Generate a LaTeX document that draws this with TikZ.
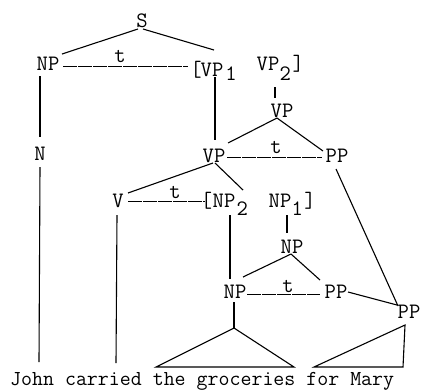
\documentclass[tikz,border=0pt]{standalone}
\usetikzlibrary{calc}
\begin{document}
\begin{tikzpicture}[x=1pt,y=-1pt,
  lab/.style={font=\fontsize{22}{22}\selectfont\ttfamily, inner sep=0pt, anchor=base},
  tr/.style={line width=1.1pt},
  trace/.style={line width=0.8pt, dash pattern=on 14pt off 1pt}]
\useasboundingbox[fill=white] (0,0) rectangle (422,389);
% labels
\node[lab] (S) at (142,27) {S};
\node[lab] (NPa) at (48,70) {NP};
\node[lab] (t1) at (120,62) {t};
\node[lab] (VP1) at (212,76) {VP};
\node[lab,anchor=base east] (lb1) at ($(VP1.base west)+(1.5,0)$) {[};
\node[lab,anchor=base west] (s1) at ($(VP1.base east)+(1.6,4)$) {1};
\node[lab] (VP2) at (268,70) {VP};
\node[lab,anchor=base west] (s2) at ($(VP2.base east)+(0,10)$) {2};
\node[lab,anchor=base west] (rb1) at ($(VP2.base east)+(13,0)$) {]};
\node[lab] (VPu) at (282,117) {VP};
\node[lab] (VPm) at (214,162) {VP};
\node[lab] (t2) at (276,153) {t};
\node[lab] (PPm) at (337,162) {PP};
\node[lab] (N) at (40,160) {N};
\node[lab] (V) at (118,207) {V};
\node[lab] (t3) at (175,198) {t};
\node[lab] (NP2) at (224,207) {NP};
\node[lab,anchor=base east] (lb2) at (NP2.base west) {[};
\node[lab,anchor=base west] (s3) at ($(NP2.base east)+(1,8)$) {2};
\node[lab] (NP1) at (280,207) {NP};
\node[lab,anchor=base west] (s4) at ($(NP1.base east)+(0,8)$) {1};
\node[lab,anchor=base west] (rb2) at ($(NP1.base east)+(12.6,0)$) {]};
\node[lab] (NPr) at (292,253) {NP};
\node[lab] (NPl) at (235,298) {NP};
\node[lab] (t4) at (288,292) {t};
\node[lab] (PPl) at (336,298) {PP};
\node[lab] (PPr) at (409,318) {PP};
\node[lab,anchor=base west,font=\fontsize{21.3}{21.3}\selectfont\ttfamily] (W) at (10,385) {John carried the groceries for Mary};
% roof coordinates
\coordinate (tri1) at ($(NPl.base)+(-1,30)$);
\coordinate (tri1l) at ($(W.base west)+(146,-18)$);
\coordinate (tri1r) at ($(W.base west)+(284,-18)$);
\coordinate (tri2) at ($(PPr.base)+(-4,7)$);
\coordinate (tri2l) at ($(W.base west)+(304,-18)$);
\coordinate (tri2r) at ($(W.base west)+(393,-18)$);
% branches
\draw[tr] ($(S.base)+(-4,2)$) -- ($(NPa.base)+(14,-16)$);
\draw[tr] ($(S.base)+(1,2)$) -- ($(VP1.base)+(2,-26)$);
\draw[trace] ($(NPa.base)+(15,-4)$) -- ($(VP1.base)+(-24,-10)$);
\draw[tr] ($(NPa.base)+(-8,6)$) -- ($(N.base)+(0,-23)$);
\draw[tr] ($(N.base)+(0,7)$) -- ($(W.base west)+(29,-23)$);
\draw[tr] ($(VP1.base)+(3,1)$) -- ($(VPm.base)+(1,-22)$);
\draw[tr] ($(VP2.base)+(7,17)$) -- ($(VPu.base)+(-7,-19)$);
\draw[tr] ($(VPu.base)+(-5,1)$) -- ($(VPm.base)+(14,-19)$);
\draw[tr] ($(VPu.base)+(-5,1)$) -- ($(PPm.base)+(-14,-11)$);
\draw[trace] ($(VPm.base)+(13,-5)$) -- ($(PPm.base)+(-15,-5)$);
\draw[tr] ($(VPm.base)+(-1,1)$) -- ($(V.base)+(10,-14)$);
\draw[tr] ($(VPm.base)+(1,1)$) -- ($(NP2.base)+(19,-17)$);
\draw[trace] ($(V.base)+(10,-6)$) -- ($(NP2.base)+(-19,-6)$);
\draw[tr] ($(V.base)+(-1,8)$) -- ($(W.base west)+(106,-22)$);
\draw[tr] ($(NP2.base)+(6,8)$) -- ($(NPl.base)+(-5,-19)$);
\draw[tr] ($(NP1.base)+(7,8)$) -- ($(NPr.base)+(-5,-20)$);
\draw[tr] ($(NPr.base)+(-1,1)$) -- ($(NPl.base)+(8,-21)$);
\draw[tr] ($(NPr.base)+(-1,1)$) -- ($(PPl.base)+(-16,-18)$);
\draw[trace] ($(NPl.base)+(12,-4)$) -- ($(PPl.base)+(-16,-4)$);
\draw[tr] ($(PPm.base)+(-1,7)$) -- ($(PPr.base)+(-11,-12)$);
\draw[tr] ($(PPl.base)+(12,-6)$) -- ($(PPr.base)+(-12,-13)$);
\draw[tr] ($(NPl.base)+(-1,4)$) -- (tri1);
\draw[tr] (tri1) -- (tri1l) -- (tri1r) -- cycle;
\draw[tr] (tri2) -- (tri2l) -- (tri2r) -- cycle;
\end{tikzpicture}
\end{document}
